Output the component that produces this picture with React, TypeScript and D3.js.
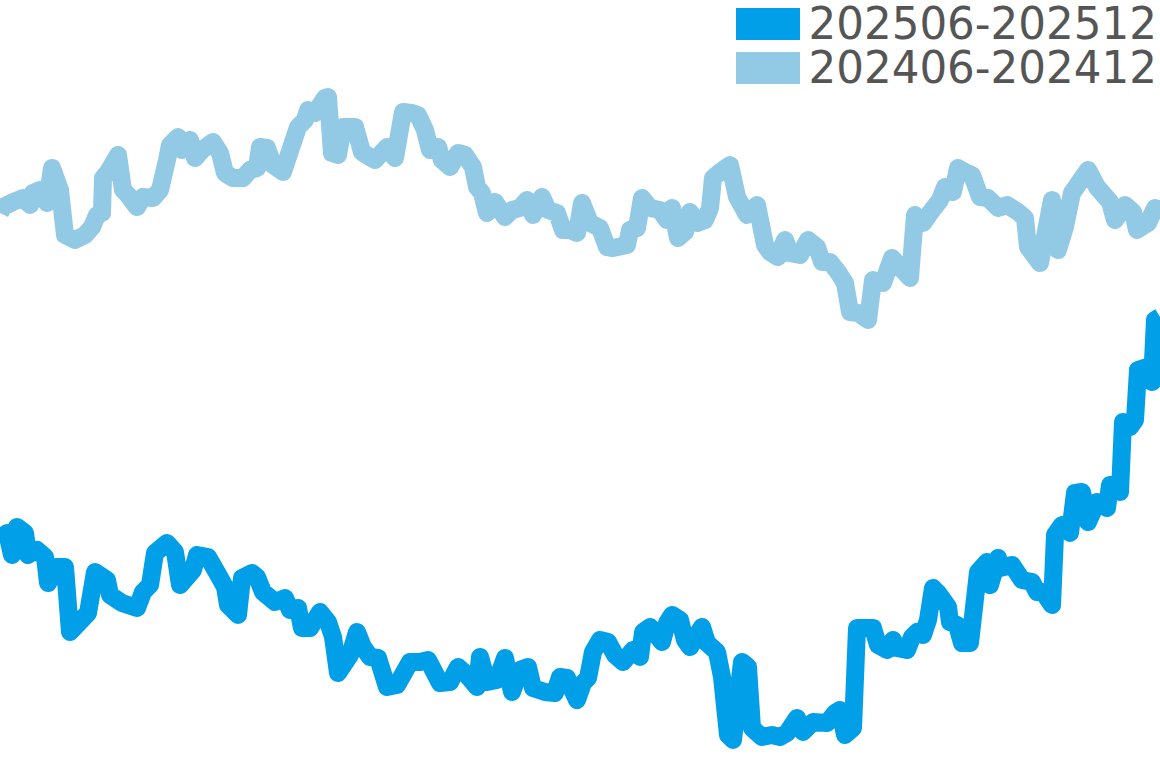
import React, { useEffect, useRef } from 'react';
import * as d3 from 'd3';

// [day position, index value] pairs
const recentSeries: [number, number][] = [
  [0, 22.8], [0.7, 23.5], [1.2, 21.3], [1.7, 24.1], [2.5, 23.5], [2.8, 21.3], [3.7, 21.8], [4.5, 21.1],
  [4.8, 18.5], [5.7, 20.1], [6.5, 20.1], [7.0, 13.6], [8.8, 15.5], [9.5, 19.6], [10.7, 18.8], [11.0, 17.3],
  [12.2, 16.5], [13.7, 16.0], [14.3, 17.6], [15.0, 18.3], [15.5, 21.5], [16.7, 22.5], [17.5, 21.6], [18.0, 18.3],
  [19.3, 19.8], [19.7, 21.3], [20.8, 21.1], [22.0, 19.0], [22.5, 18.1], [22.8, 16.3], [23.8, 15.3], [24.2, 19.0],
  [25.2, 19.5], [25.7, 19.1], [26.3, 17.6], [27.5, 16.6], [28.5, 17.0], [29.0, 15.8], [29.8, 16.0], [30.2, 14.0],
  [31.0, 14.0], [32.0, 15.6], [32.8, 14.6], [33.3, 13.1], [33.8, 9.5], [35.0, 11.3], [35.7, 13.6], [36.3, 12.1],
  [37.0, 11.1], [37.8, 11.0], [38.7, 8.1], [39.7, 8.3], [41.0, 10.6], [42.0, 10.6], [42.8, 10.8], [44.0, 8.5],
  [45.0, 8.6], [45.8, 10.1], [46.7, 9.3], [47.7, 8.1], [48.0, 11.1], [48.7, 8.6], [49.7, 8.8], [50.5, 11.0],
  [51.2, 7.6], [52.0, 9.8], [52.8, 10.1], [53.3, 8.0], [54.5, 7.6], [55.5, 7.5], [56.0, 9.1], [56.7, 9.0],
  [57.7, 6.8], [58.3, 8.5], [58.8, 9.0], [59.3, 11.6], [60.0, 12.8], [60.8, 12.6], [61.5, 11.3], [62.3, 10.6],
  [63.3, 11.8], [64.0, 11.1], [64.3, 13.6], [65.0, 14.1], [65.5, 13.5], [66.2, 12.6], [66.7, 14.5], [67.2, 15.3],
  [68.0, 14.8], [68.5, 12.8], [69.0, 12.1], [70.2, 14.1], [70.7, 12.5], [71.7, 11.6], [72.2, 9.1], [72.8, 3.3],
  [73.3, 2.8], [74.2, 10.6], [74.8, 10.1], [75.2, 4.0], [76.2, 3.1], [77.2, 3.3], [78.0, 3.1], [78.7, 3.5],
  [79.7, 5.0], [80.3, 3.6], [81.3, 4.6], [82.7, 4.5], [83.5, 5.5], [84.0, 5.8], [84.5, 3.3], [85.3, 4.0],
  [85.7, 14.0], [86.7, 14.0], [87.3, 14.0], [87.8, 12.3], [88.7, 11.8], [89.3, 12.8], [89.7, 12.0], [90.7, 11.8],
  [91.2, 13.1], [91.7, 13.6], [92.3, 13.3], [92.8, 14.8], [93.3, 18.0], [93.8, 17.5], [94.8, 16.1], [95.0, 14.6],
  [95.7, 14.3], [96.2, 12.5], [97.0, 12.5], [97.8, 19.6], [98.7, 20.6], [99.0, 18.3], [99.8, 21.0], [100.0, 20.0],
  [101.2, 20.3], [102.2, 18.8], [103.2, 18.6], [103.7, 17.6], [104.3, 17.6], [105.2, 16.3], [105.5, 23.3], [106.2, 24.3],
  [107.0, 23.5], [107.5, 27.5], [108.2, 27.6], [108.8, 24.6], [109.7, 26.6], [110.7, 26.0], [111.0, 28.3], [112.0, 27.6],
  [112.3, 34.6], [113.0, 34.1], [113.5, 34.8], [113.8, 39.8], [114.7, 40.1], [115.2, 38.6], [115.5, 44.8], [116.0, 45.1],
];

const previousSeries: [number, number][] = [
  [0, 55.5], [0.3, 56.1], [1.3, 56.6], [2.3, 57.0], [3.0, 56.3], [3.3, 57.5], [4.0, 57.8], [4.7, 56.5],
  [5.2, 60.0], [6.0, 57.8], [6.5, 53.3], [7.5, 52.8], [8.5, 53.3], [9.2, 54.1], [9.7, 55.3], [10.2, 55.5],
  [10.3, 59.0], [10.8, 59.6], [11.8, 61.3], [12.3, 57.8], [12.8, 57.3], [13.7, 56.1], [14.3, 57.1], [15.3, 57.0],
  [16.0, 57.8], [16.7, 60.8], [17.0, 62.3], [17.8, 63.1], [18.2, 61.8], [19.0, 62.8], [19.5, 61.0], [20.2, 61.8],
  [21.3, 62.6], [22.0, 61.5], [22.5, 59.5], [23.3, 59.0], [24.3, 59.0], [25.0, 59.8], [25.7, 60.0], [26.0, 62.1],
  [26.7, 62.0], [27.3, 60.3], [28.3, 59.6], [29.3, 62.6], [29.8, 64.1], [30.5, 64.8], [30.8, 65.8], [31.5, 65.5],
  [32.5, 67.0], [32.8, 67.1], [33.2, 61.5], [33.8, 61.3], [34.3, 64.1], [35.5, 64.1], [36.2, 61.6], [37.0, 61.1],
  [37.5, 60.8], [38.7, 62.1], [39.5, 61.0], [40.3, 65.6], [41.2, 65.5], [41.8, 65.3], [42.5, 63.8], [43.0, 61.8],
  [43.8, 62.1], [44.2, 60.8], [45.0, 60.1], [45.8, 61.5], [46.5, 61.3], [47.3, 60.1], [47.7, 58.1], [48.2, 57.5],
  [48.7, 55.5], [49.5, 56.6], [50.5, 55.1], [51.2, 55.8], [52.0, 56.0], [52.7, 56.8], [53.3, 55.3], [54.2, 57.1],
  [54.8, 55.8], [55.7, 55.5], [56.3, 53.8], [57.0, 53.8], [57.7, 53.5], [58.2, 56.5], [59.0, 54.5], [60.0, 54.0],
  [60.7, 52.1], [61.3, 52.0], [62.7, 52.3], [63.0, 53.8], [63.7, 54.0], [64.2, 57.0], [65.0, 56.0], [66.0, 55.8],
  [66.7, 54.8], [67.2, 56.0], [67.8, 53.0], [68.5, 53.6], [69.0, 55.6], [69.7, 54.5], [70.5, 54.8], [71.0, 56.0],
  [71.3, 59.0], [72.0, 59.6], [73.0, 60.3], [73.7, 57.1], [74.7, 55.3], [75.7, 56.3], [76.5, 52.3], [77.0, 51.6],
  [77.8, 51.1], [78.5, 52.8], [79.0, 51.5], [80.0, 51.3], [80.8, 52.8], [81.7, 52.1], [82.2, 50.6], [83.0, 50.6],
  [83.8, 49.6], [84.5, 48.5], [85.0, 45.6], [85.8, 45.5], [86.8, 44.8], [87.3, 48.8], [88.3, 48.5], [89.2, 51.0],
  [90.0, 50.1], [91.0, 49.0], [91.5, 55.3], [92.3, 54.5], [93.0, 55.5], [94.0, 56.8], [94.5, 58.1], [95.3, 57.6],
  [95.8, 60.0], [96.7, 59.5], [97.2, 59.3], [98.0, 57.1], [98.8, 57.0], [99.8, 56.0], [100.7, 56.3], [101.8, 55.6],
  [102.5, 55.0], [102.8, 52.1], [104.0, 50.5], [105.2, 56.8], [105.8, 51.8], [106.5, 54.1], [107.2, 57.5], [108.8, 59.8],
  [109.7, 58.1], [111.0, 56.6], [111.5, 54.8], [112.5, 56.3], [113.3, 55.6], [113.7, 53.8], [114.8, 54.5], [115.5, 56.0],
  [116.0, 55.8],
];

const seriesLabels = ['202506-202512', '202406-202412'];
const seriesColors = ['#009fe8', '#92c9e4'];

const width = 1160;
const height = 768;

const App: React.FC = () => {
  const svgRef = useRef<SVGSVGElement>(null);

  useEffect(() => {
    if (!svgRef.current) return;
    const svg = d3.select(svgRef.current);
    svg.selectAll('*').remove();

    const x = d3.scaleLinear().domain([0, 116]).range([0, width]);
    const y = d3.scaleLinear().domain([0, 76.8]).range([height, 0]);

    const line = d3.line<[number, number]>()
      .x(d => x(d[0]))
      .y(d => y(d[1]));

    // older period drawn first, underneath
    const drawn = [
      { data: previousSeries, color: seriesColors[1] },
      { data: recentSeries, color: seriesColors[0] },
    ];
    drawn.forEach(s => {
      svg.append('path')
        .datum(s.data)
        .attr('d', line)
        .attr('fill', 'none')
        .attr('stroke', s.color)
        .attr('stroke-width', 18)
        .attr('stroke-linejoin', 'round')
        .attr('stroke-linecap', 'butt');
    });

    // legend top right
    const legend = svg.append('g');
    seriesLabels.forEach((label, i) => {
      legend.append('rect')
        .attr('x', 736)
        .attr('y', 8 + i * 44)
        .attr('width', 64)
        .attr('height', 32)
        .attr('fill', seriesColors[i]);
      legend.append('text')
        .attr('x', 1157)
        .attr('y', 39 + i * 44)
        .attr('text-anchor', 'end')
        .attr('font-family', 'DejaVu Sans')
        .attr('font-size', '43.6px')
        .attr('fill', '#555555')
        .text(label);
    });
  }, []);

  return (
    <div style={{ position: 'fixed', left: 0, top: 0, width, height, background: '#fff' }}>
      <svg ref={svgRef} width={width} height={height} style={{ display: 'block' }} />
    </div>
  );
};

export default App;
